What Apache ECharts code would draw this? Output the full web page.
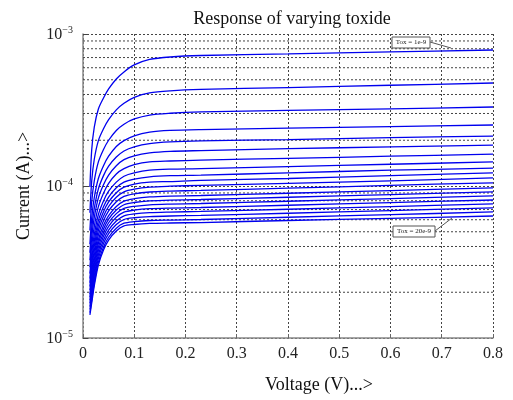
<!DOCTYPE html>
<html>
<head>
<meta charset="utf-8">
<script src="https://cdn.jsdelivr.net/npm/echarts@6/dist/echarts.min.js"></script>
<style>
  html, body { margin: 0; padding: 0; background: #fff; }
  #chart { width: 513px; height: 400px; }
</style>
</head>
<body>
<div id="chart"></div>
<script>
// drain voltage samples (V)
const voltage = [0.0135, 0.017, 0.022, 0.03, 0.04, 0.05, 0.065, 0.08, 0.1, 0.13, 0.17, 0.23, 0.4, 0.6, 0.8];

// drain current (A) for each oxide thickness
const tox01 = [9.85e-5, 1.73e-4, 2.44e-4, 3.21e-4, 3.79e-4, 4.35e-4, 5.06e-4, 5.63e-4, 6.26e-4, 6.80e-4, 7.06e-4, 7.22e-4, 7.40e-4, 7.63e-4, 7.85e-4];
const tox02 = [6.66e-5, 1.08e-4, 1.50e-4, 1.99e-4, 2.38e-4, 2.73e-4, 3.17e-4, 3.50e-4, 3.83e-4, 4.10e-4, 4.23e-4, 4.32e-4, 4.44e-4, 4.60e-4, 4.76e-4];
const tox03 = [5.09e-5, 7.87e-5, 1.08e-4, 1.44e-4, 1.74e-4, 2.00e-4, 2.32e-4, 2.55e-4, 2.76e-4, 2.93e-4, 3.01e-4, 3.07e-4, 3.14e-4, 3.22e-4, 3.31e-4];
const tox04 = [4.14e-5, 6.16e-5, 8.40e-5, 1.12e-4, 1.36e-4, 1.57e-4, 1.82e-4, 1.99e-4, 2.14e-4, 2.26e-4, 2.32e-4, 2.35e-4, 2.40e-4, 2.46e-4, 2.52e-4];
const tox05 = [3.64e-5, 5.26e-5, 7.12e-5, 9.57e-5, 1.17e-4, 1.35e-4, 1.55e-4, 1.70e-4, 1.81e-4, 1.90e-4, 1.95e-4, 1.98e-4, 2.02e-4, 2.08e-4, 2.13e-4];
const tox06 = [3.25e-5, 4.61e-5, 6.21e-5, 8.36e-5, 1.02e-4, 1.18e-4, 1.36e-4, 1.49e-4, 1.58e-4, 1.65e-4, 1.69e-4, 1.71e-4, 1.76e-4, 1.81e-4, 1.86e-4];
const tox07 = [2.92e-5, 4.04e-5, 5.41e-5, 7.31e-5, 8.97e-5, 1.04e-4, 1.20e-4, 1.30e-4, 1.38e-4, 1.44e-4, 1.46e-4, 1.48e-4, 1.52e-4, 1.57e-4, 1.62e-4];
const tox08 = [2.65e-5, 3.59e-5, 4.79e-5, 6.49e-5, 7.98e-5, 9.24e-5, 1.06e-4, 1.16e-4, 1.22e-4, 1.27e-4, 1.29e-4, 1.30e-4, 1.34e-4, 1.39e-4, 1.44e-4];
const tox09 = [2.46e-5, 3.29e-5, 4.36e-5, 5.92e-5, 7.30e-5, 8.46e-5, 9.74e-5, 1.06e-4, 1.11e-4, 1.15e-4, 1.17e-4, 1.18e-4, 1.22e-4, 1.27e-4, 1.31e-4];
const tox10 = [2.31e-5, 3.05e-5, 4.03e-5, 5.48e-5, 6.77e-5, 7.85e-5, 9.04e-5, 9.82e-5, 1.03e-4, 1.06e-4, 1.07e-4, 1.09e-4, 1.12e-4, 1.17e-4, 1.22e-4];
const tox11 = [2.18e-5, 2.84e-5, 3.75e-5, 5.11e-5, 6.32e-5, 7.33e-5, 8.43e-5, 9.16e-5, 9.54e-5, 9.83e-5, 9.97e-5, 1.01e-4, 1.04e-4, 1.08e-4, 1.13e-4];
const tox12 = [2.06e-5, 2.65e-5, 3.49e-5, 4.76e-5, 5.90e-5, 6.85e-5, 7.87e-5, 8.54e-5, 8.88e-5, 9.13e-5, 9.25e-5, 9.35e-5, 9.67e-5, 1.01e-4, 1.05e-4];
const tox13 = [1.94e-5, 2.47e-5, 3.25e-5, 4.43e-5, 5.51e-5, 6.39e-5, 7.34e-5, 7.96e-5, 8.25e-5, 8.47e-5, 8.58e-5, 8.66e-5, 8.96e-5, 9.33e-5, 9.71e-5];
const tox14 = [1.85e-5, 2.34e-5, 3.06e-5, 4.19e-5, 5.21e-5, 6.05e-5, 6.95e-5, 7.53e-5, 7.79e-5, 7.98e-5, 8.08e-5, 8.15e-5, 8.43e-5, 8.78e-5, 9.14e-5];
const tox15 = [1.77e-5, 2.21e-5, 2.89e-5, 3.96e-5, 4.93e-5, 5.73e-5, 6.58e-5, 7.12e-5, 7.35e-5, 7.52e-5, 7.60e-5, 7.67e-5, 7.94e-5, 8.26e-5, 8.60e-5];
const tox16 = [1.69e-5, 2.09e-5, 2.73e-5, 3.74e-5, 4.67e-5, 5.43e-5, 6.23e-5, 6.73e-5, 6.94e-5, 7.09e-5, 7.16e-5, 7.22e-5, 7.47e-5, 7.78e-5, 8.09e-5];
const tox17 = [1.61e-5, 1.98e-5, 2.58e-5, 3.53e-5, 4.42e-5, 5.13e-5, 5.89e-5, 6.37e-5, 6.55e-5, 6.68e-5, 6.74e-5, 6.80e-5, 7.03e-5, 7.32e-5, 7.62e-5];
const tox18 = [1.54e-5, 1.87e-5, 2.43e-5, 3.34e-5, 4.18e-5, 4.86e-5, 5.58e-5, 6.02e-5, 6.18e-5, 6.29e-5, 6.35e-5, 6.40e-5, 6.62e-5, 6.89e-5, 7.17e-5];
const tox19 = [1.47e-5, 1.77e-5, 2.30e-5, 3.16e-5, 3.96e-5, 4.60e-5, 5.28e-5, 5.69e-5, 5.83e-5, 5.93e-5, 5.97e-5, 6.02e-5, 6.23e-5, 6.48e-5, 6.75e-5];
const tox20 = [1.42e-5, 1.70e-5, 2.20e-5, 3.02e-5, 3.79e-5, 4.41e-5, 5.06e-5, 5.46e-5, 5.58e-5, 5.67e-5, 5.71e-5, 5.75e-5, 5.93e-5, 6.13e-5, 6.35e-5];

const curves = [tox01, tox02, tox03, tox04, tox05, tox06, tox07, tox08, tox09, tox10,
                tox11, tox12, tox13, tox14, tox15, tox16, tox17, tox18, tox19, tox20];
const toxNames = ['1e-9', '2e-9', '3e-9', '4e-9', '5e-9', '6e-9', '7e-9', '8e-9', '9e-9', '10e-9',
                  '11e-9', '12e-9', '13e-9', '14e-9', '15e-9', '16e-9', '17e-9', '18e-9', '19e-9', '20e-9'];

// dotted minor grid lines of the log axis
const minorGrid = [2e-5, 3e-5, 4e-5, 5e-5, 6e-5, 7e-5, 8e-5, 9e-5,
                   2e-4, 3e-4, 4e-4, 5e-4, 6e-4, 7e-4, 8e-4, 9e-4];
const xTicks = [0, 0.1, 0.2, 0.3, 0.4, 0.5, 0.6, 0.7, 0.8];

const serif = 'Liberation Serif';
const dotted = { color: '#444', width: 1, type: [2, 2] };

let chart = echarts.init(document.getElementById('chart'));

// minor grid drawn as plain horizontal lines across the x range
let series = minorGrid.map(function (v) {
    return {
        type: 'line',
        data: [[xTicks[0], v], [xTicks[xTicks.length - 1], v]],
        showSymbol: false,
        silent: true,
        lineStyle: dotted,
        z: 1,
        animation: false
    };
});

curves.forEach(function (c, k) {
    series.push({
        name: 'Tox = ' + toxNames[k],
        type: 'line',
        data: voltage.map(function (v, i) { return [v, c[i]]; }),
        smooth: 0.3,
        showSymbol: false,
        lineStyle: { color: '#0000ee', width: 1.3 },
        z: 3,
        animation: false
    });
});

const option = {
    backgroundColor: '#fff',
    animation: false,
    title: {
        text: 'Response of varying toxide',
        left: 287,
        textAlign: 'center',
        top: 5,
        textStyle: { fontFamily: serif, fontSize: 18, fontWeight: 'normal', color: '#111' }
    },
    grid: { left: 83, right: 20, top: 34, bottom: 62 },
    xAxis: {
        type: 'value',
        min: 0,
        max: 0.8,
        interval: 0.1,
        name: 'Voltage (V)...>',
        nameLocation: 'middle',
        nameGap: 38,
        nameTextStyle: { fontFamily: serif, fontSize: 18, color: '#111', padding: [0, 0, 0, 62] },
        axisLine: { lineStyle: { color: '#888', width: 1.5 } },
        axisTick: { show: true, inside: true, length: 4, lineStyle: { color: '#666' } },
        axisLabel: {
            fontFamily: serif, fontSize: 16, color: '#222', margin: 8,
            formatter: function (v) {
                let hit = xTicks.find(function (t) { return Math.abs(t - v) < 1e-6; });
                return hit === 0 ? '0' : String(hit);
            }
        },
        splitLine: { show: true, lineStyle: dotted }
    },
    yAxis: {
        type: 'log',
        logBase: 10,
        min: 1e-5,
        max: 1e-3,
        name: 'Current (A)...>',
        nameLocation: 'middle',
        nameGap: 50,
        nameTextStyle: { fontFamily: serif, fontSize: 18, color: '#111' },
        axisLine: { show: true, lineStyle: { color: '#888', width: 1.5 } },
        axisTick: { show: true, inside: true, length: 5, lineStyle: { color: '#444' } },
        axisLabel: {
            margin: 10,
            formatter: function (v) {
                let e = Math.round(Math.log10(v));
                return '{b|10}{s|\u2212' + Math.abs(e) + '}';
            },
            rich: {
                b: { fontFamily: serif, fontSize: 16, color: '#222', lineHeight: 18, verticalAlign: 'bottom' },
                s: { fontFamily: serif, fontSize: 10, color: '#222', lineHeight: 18, verticalAlign: 'top' }
            }
        },
        splitLine: { show: true, lineStyle: dotted }
    },
    graphic: [
        { type: 'line', shape: { x1: 430, y1: 42, x2: 451, y2: 48 }, style: { stroke: '#555', lineWidth: 1 }, z: 10 },
        { type: 'rect', shape: { x: 392, y: 37, width: 38, height: 11 }, style: { fill: '#fff', stroke: '#555', lineWidth: 1 }, z: 10 },
        { type: 'text', x: 411, y: 42.5, style: { text: 'Tox = 1e-9', font: '7px "Liberation Serif"', fill: '#222', align: 'center', verticalAlign: 'middle' }, z: 11 },
        { type: 'line', shape: { x1: 435, y1: 231, x2: 452, y2: 218 }, style: { stroke: '#555', lineWidth: 1 }, z: 10 },
        { type: 'rect', shape: { x: 393, y: 226, width: 42, height: 11 }, style: { fill: '#fff', stroke: '#555', lineWidth: 1 }, z: 10 },
        { type: 'text', x: 414, y: 231.5, style: { text: 'Tox = 20e-9', font: '7px "Liberation Serif"', fill: '#222', align: 'center', verticalAlign: 'middle' }, z: 11 }
    ],
    series: series
};

chart.setOption(option);
</script>
</body>
</html>
